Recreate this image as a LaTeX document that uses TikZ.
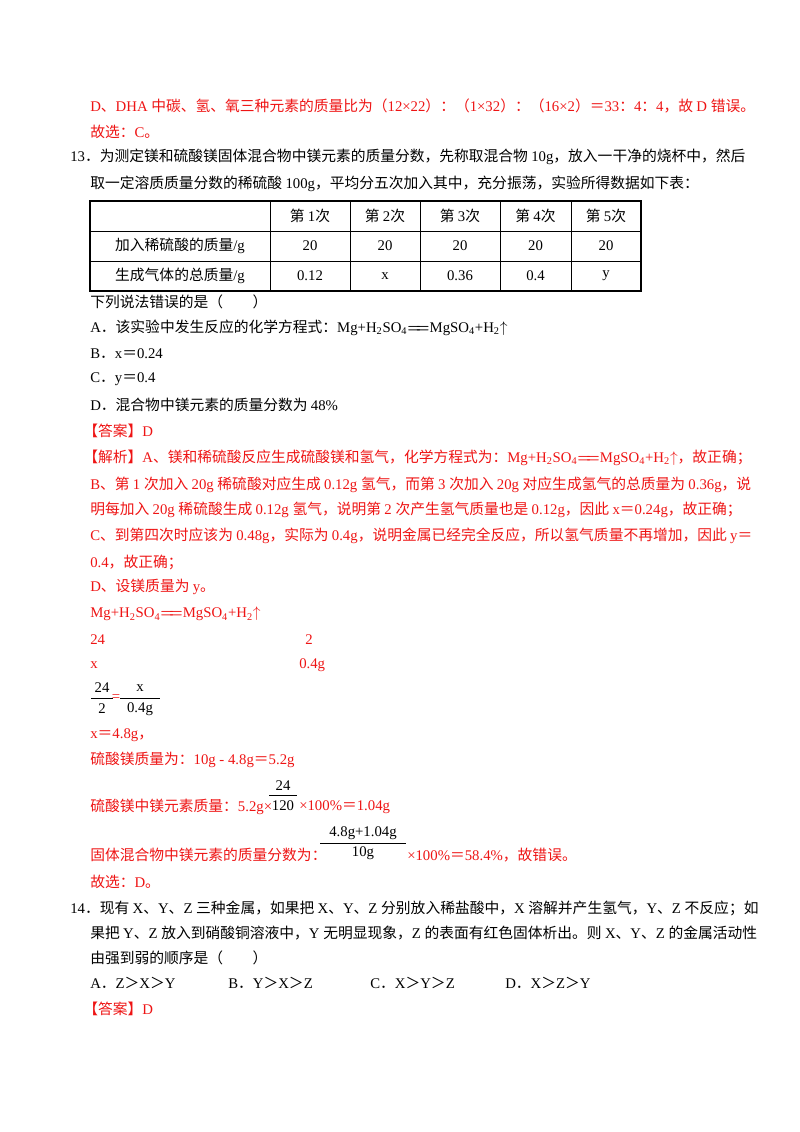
\documentclass[tikz,border=0pt]{standalone}
\usepackage{fontspec}
\usepackage{amsmath,bm}
\setmainfont{Liberation Serif}
\newfontfamily\cjk{Noto Sans CJK SC}
\usetikzlibrary{positioning,calc}
\definecolor{ansred}{RGB}{238,20,20}

% switch to the CJK font for Chinese characters
\XeTeXinterchartokenstate=1
\newXeTeXintercharclass\cjkcls
\newcount\cc
\cc="3000 \loop \XeTeXcharclass\cc=\cjkcls \ifnum\cc<"303F \advance\cc 1 \repeat
\cc="4E00 \loop \XeTeXcharclass\cc=\cjkcls \ifnum\cc<"9FFF \advance\cc 1 \repeat
\cc="FF00 \loop \XeTeXcharclass\cc=\cjkcls \ifnum\cc<"FFEF \advance\cc 1 \repeat
\XeTeXinterchartoks 0 \cjkcls={\cjk}
\XeTeXinterchartoks 4095 \cjkcls={\cjk}
\XeTeXinterchartoks \cjkcls 0={\rmfamily}
\XeTeXinterchartoks 4095 0={\rmfamily}

\newcommand{\mgeq}{Mg+H\textsubscript{2}SO\textsubscript{4}$\boldsymbol{=}\!\!\boldsymbol{=}$MgSO\textsubscript{4}+H\textsubscript{2}$\uparrow$}

\begin{document}
\begin{tikzpicture}[x=0.025cm, y=-0.025cm,
  txt/.style={anchor=west, inner sep=0pt, font=\fontsize{10.5}{13}\selectfont},
  ans/.style={txt, text=ansred},
  cell/.style={inner sep=0pt, font=\fontsize{10.5}{13}\selectfont}]
  \useasboundingbox (0,0) rectangle (800,1132);

  % end of question 12
  \node[ans] (d12) at (90,106) {D、DHA 中碳、氢、氧三种元素的质量比为（12×22）：（1×32）：（16×2）＝33：4：4，故 D 错误。};
  \node[ans] (c12) at (90,132) {故选：C。};

  % question 13
  \node[txt] (q13a) at (70,157) {13．为测定镁和硫酸镁固体混合物中镁元素的质量分数，先称取混合物 10g，放入一干净的烧杯中，然后};
  \node[txt] (q13b) at (90,184) {取一定溶质质量分数的稀硫酸 100g，平均分五次加入其中，充分振荡，实验所得数据如下表：};

  % table
  \draw[thick] (90,201) rectangle (641,291);
  \foreach \y in {231,261} \draw (90,\y) -- (641,\y);
  \foreach \x in {270,350,420,500,571} \draw (\x,201) -- (\x,291);
  \foreach \x/\t [count=\i] in {310/1,385/2,460/3,535.5/4,606/5}
    \node[cell] (hd\i) at (\x,216) {第 \t 次};
  \node[cell] (rowa) at (180,246) {加入稀硫酸的质量/g};
  \node[cell] (rowb) at (180,276) {生成气体的总质量/g};
  \foreach \x/\t [count=\i] in {310/20,385/20,460/20,535.5/20,606/20}
    \node[cell] (va\i) at (\x,246) {\t};
  \foreach \x/\t [count=\i] in {310/0.12,385/x,460/0.36,535.5/0.4,606/y}
    \node[cell] (vb\i) at (\x,276) {\t};

  \node[txt] (ask) at (90,302) {下列说法错误的是（　　）};
  \node[txt] (optA) at (90,328) {A．该实验中发生反应的化学方程式：\mgeq};
  \node[txt] (optB) at (90,354) {B．x＝0.24};
  \node[txt] (optC) at (90,379) {C．y＝0.4};
  \node[txt] (optD) at (90,405) {D．混合物中镁元素的质量分数为 48\%};

  % answer and analysis
  \node[ans] (key13) at (83,431) {【答案】D};
  \node[ans] (ana1) at (83,458) {【解析】A、镁和稀硫酸反应生成硫酸镁和氢气，化学方程式为：\mgeq，故正确；};
  \node[ans] (ana2) at (90,485) {B、第 1 次加入 20g 稀硫酸对应生成 0.12g 氢气，而第 3 次加入 20g 对应生成氢气的总质量为 0.36g，说};
  \node[ans] (ana3) at (90,510) {明每加入 20g 稀硫酸生成 0.12g 氢气，说明第 2 次产生氢气质量也是 0.12g，因此 x＝0.24g，故正确；};
  \node[ans] (ana4) at (90,536) {C、到第四次时应该为 0.48g，实际为 0.4g，说明金属已经完全反应，所以氢气质量不再增加，因此 y＝};
  \node[ans] (ana5) at (90,562) {0.4，故正确；};
  \node[ans] (ana6) at (90,587) {D、设镁质量为 y。};
  \node[ans] (ana7) at (90,614) {\mgeq};
  \node[ans] (m24) at (90,640) {24};
  \node[ans] (m2) at (305,640) {2};
  \node[ans] (mx) at (90,665) {x};
  \node[ans] (m04) at (299,665) {0.4g};

  % proportion
  \node[cell] (pa) at (102,688) {24};
  \node[cell] (pb) at (102,709) {2};
  \draw (91,698) -- (113,698);
  \node[cell, text=ansred] (peq) at (116,698) {=};
  \node[cell] (pc) at (140,688) {x};
  \node[cell] (pd) at (140,709) {0.4g};
  \draw (120,698) -- (160,698);

  \node[ans] (ana8) at (90,735) {x＝4.8g，};
  \node[ans] (ana9) at (90,760) {硫酸镁质量为：10g - 4.8g＝5.2g};
  \node[ans] (ana10) at (90,807) {硫酸镁中镁元素质量：5.2g×};
  \node[cell] (fa) at (283,786) {24};
  \node[cell] (fb) at (283,806) {120};
  \draw (269,795) -- (297,795);
  \node[ans] (ana11) at (299,807) {×100\%＝1.04g};
  \node[ans] (ana12) at (90,855) {固体混合物中镁元素的质量分数为：};
  \node[cell] (ga) at (363,833) {4.8g+1.04g};
  \node[cell] (gb) at (363,853) {10g};
  \draw (320,843) -- (406,843);
  \node[ans] (ana13) at (407,855) {×100\%＝58.4\%，故错误。};
  \node[ans] (ana14) at (90,882) {故选：D。};

  % question 14
  \node[txt] (q14a) at (70,908) {14．现有 X、Y、Z 三种金属，如果把 X、Y、Z 分别放入稀盐酸中，X 溶解并产生氢气，Y、Z 不反应；如};
  \node[txt] (q14b) at (90,933) {果把 Y、Z 放入到硝酸铜溶液中，Y 无明显现象，Z 的表面有红色固体析出。则 X、Y、Z 的金属活动性};
  \node[txt] (q14c) at (90,958) {由强到弱的顺序是（　　）};
  \foreach \x/\t [count=\i] in {90/A．Z＞X＞Y, 228/B．Y＞X＞Z, 370/C．X＞Y＞Z, 505/D．X＞Z＞Y}
    \node[txt] (ch\i) at (\x,983) {\t};
  \node[ans] (key14) at (83,1009) {【答案】D};
\end{tikzpicture}
\end{document}
